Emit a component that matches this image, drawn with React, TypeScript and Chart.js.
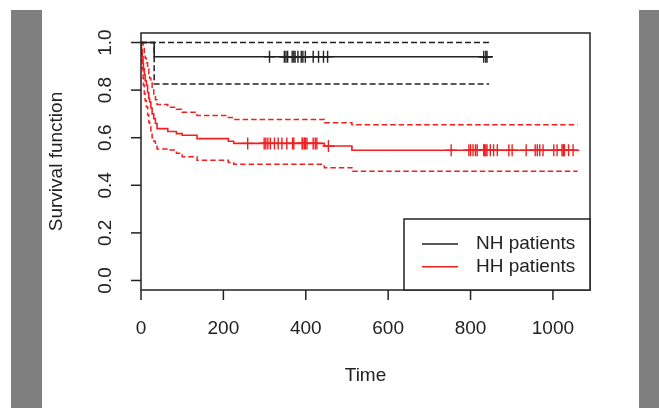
import React, { useEffect, useRef } from "react";
import { Chart, registerables } from "chart.js";

Chart.register(...registerables);

// ---- Axis ticks ----
const xTicks = [0, 200, 400, 600, 800, 1000];
const yTicks = [0, 0.2, 0.4, 0.6, 0.8, 1.0];
const yTickLabels = ["0.0", "0.2", "0.4", "0.6", "0.8", "1.0"];

// ---- NH patients (black) ----
const nhTimes = [0, 32, 852];
const nhSurv = [1.0, 0.94, 0.94];
const nhCiTimes = [0, 32, 845];
const nhUpper = [1.0, 1.0, 1.0];
const nhLower = [1.0, 0.826, 0.826];
const nhCensor = [312, 348, 352, 356, 367, 371, 374, 381, 389, 393, 399, 418, 431, 443, 453, 832, 837, 840];

// ---- HH patients (red) ----
const hhTimes = [0, 1, 3, 5, 6, 8, 10, 13, 16, 19, 21, 24, 27, 31, 35, 39, 65, 86, 100, 136, 212, 225, 445, 512, 1060];
const hhSurv = [1, 0.97, 0.94, 0.91, 0.89, 0.865, 0.84, 0.82, 0.79, 0.765, 0.75, 0.725, 0.7, 0.68, 0.66, 0.638, 0.626, 0.617, 0.61, 0.596, 0.585, 0.576, 0.565, 0.547, 0.547];
const hhUpper = [1, 1, 1, 0.99, 0.975, 0.955, 0.935, 0.915, 0.89, 0.865, 0.85, 0.83, 0.8, 0.78, 0.76, 0.74, 0.728, 0.72, 0.707, 0.693, 0.685, 0.677, 0.663, 0.654, 0.654];
const hhLower = [1, 0.93, 0.89, 0.85, 0.82, 0.785, 0.755, 0.73, 0.695, 0.665, 0.645, 0.62, 0.6, 0.585, 0.57, 0.553, 0.548, 0.535, 0.52, 0.505, 0.496, 0.488, 0.474, 0.459, 0.459];
const hhCensor = [259, 299, 303, 308, 314, 324, 333, 342, 354, 368, 371, 391, 393, 397, 399, 403, 418, 423, 427, 455, 753, 796, 800, 806, 812, 816, 832, 834, 837, 840, 848, 856, 865, 893, 901, 935, 957, 962, 968, 976, 1002, 1010, 1022, 1025, 1026, 1028, 1038, 1049];

const legendLabels = ["NH patients", "HH patients"];

const BLACK = "#222222";
const RED = "#f02020";
const FONT = '19px "Liberation Sans", Arial, Helvetica, sans-serif';

function pts(times: number[], vals: number[]) {
  return times.map((t, i) => ({ x: t, y: vals[i] }));
}
function survAt(times: number[], vals: number[], t: number) {
  let v = vals[0];
  for (let i = 0; i < times.length; i++) if (times[i] <= t) v = vals[i];
  return v;
}

const decor = {
  id: "decor",
  afterDraw(chart: any) {
    const { ctx, chartArea: a, scales } = chart;
    const xs = scales.x;
    const ys = scales.y;
    ctx.save();
    ctx.strokeStyle = BLACK;
    ctx.fillStyle = BLACK;
    ctx.lineWidth = 1.5;
    ctx.strokeRect(a.left, a.top, a.right - a.left, a.bottom - a.top);
    ctx.font = FONT;
    ctx.textAlign = "center";
    ctx.textBaseline = "middle";
    xTicks.forEach((v) => {
      const px = xs.getPixelForValue(v);
      ctx.beginPath();
      ctx.moveTo(px, a.bottom);
      ctx.lineTo(px, a.bottom + 10);
      ctx.stroke();
      ctx.fillText(String(v), px, a.bottom + 39);
    });
    yTicks.forEach((v, i) => {
      const py = ys.getPixelForValue(v);
      ctx.beginPath();
      ctx.moveTo(a.left - 10, py);
      ctx.lineTo(a.left, py);
      ctx.stroke();
      ctx.save();
      ctx.translate(a.left - 35, py);
      ctx.rotate(-Math.PI / 2);
      ctx.fillText(yTickLabels[i], 0, 0);
      ctx.restore();
    });
    ctx.fillText("Time", (a.left + a.right) / 2, a.bottom + 86);
    ctx.save();
    ctx.translate(a.left - 84, (a.top + a.bottom) / 2);
    ctx.rotate(-Math.PI / 2);
    ctx.fillText("Survival function", 0, 0);
    ctx.restore();

    // legend
    const lw = 186, lh = 71;
    const lx = a.right - lw, ly = a.bottom - lh;
    ctx.fillStyle = "#ffffff";
    ctx.fillRect(lx, ly, lw, lh);
    ctx.strokeStyle = BLACK;
    ctx.strokeRect(lx, ly, lw, lh);
    const colors = [BLACK, RED];
    const rows = [25, 47.7];
    legendLabels.forEach((lab, i) => {
      ctx.strokeStyle = colors[i];
      ctx.lineWidth = 1.5;
      ctx.beginPath();
      ctx.moveTo(lx + 18, ly + rows[i]);
      ctx.lineTo(lx + 54, ly + rows[i]);
      ctx.stroke();
      ctx.fillStyle = BLACK;
      ctx.textAlign = "left";
      ctx.fillText(lab, lx + 72, ly + rows[i]);
    });
    ctx.restore();
  },
};

export default function App() {
  const ref = useRef<HTMLCanvasElement>(null);
  useEffect(() => {
    const prev = document.body.style.margin;
    document.body.style.margin = "0";
    const lineDs = (data: any[], color: string, dash: number[] | null, width: number) => ({
      type: "line" as const,
      data,
      borderColor: color,
      borderWidth: width,
      borderDash: dash || [],
      pointRadius: 0,
      stepped: true,
      fill: false,
      tension: 0,
    });
    const censorDs = (times: number[], stimes: number[], svals: number[], color: string) => ({
      type: "scatter" as const,
      data: times.map((t) => ({ x: t, y: survAt(stimes, svals, t) })),
      pointStyle: "cross",
      pointRadius: 6,
      borderColor: color,
      borderWidth: 1.4,
      showLine: false,
    });
    const chart = new Chart(ref.current as HTMLCanvasElement, {
      type: "line",
      data: {
        datasets: [
          lineDs(pts(nhTimes, nhSurv), BLACK, null, 1.6),
          lineDs(pts(nhCiTimes, nhUpper), BLACK, [6, 3], 1.5),
          lineDs(pts(nhCiTimes, nhLower), BLACK, [6, 3], 1.5),
          censorDs(nhCensor, nhTimes, nhSurv, BLACK),
          lineDs(pts(hhTimes, hhSurv), RED, null, 1.6),
          lineDs(pts(hhTimes, hhUpper), RED, [5.5, 3], 1.5),
          lineDs(pts(hhTimes, hhLower), RED, [5.5, 3], 1.5),
          censorDs(hhCensor, hhTimes, hhSurv, RED),
        ] as any,
      },
      options: {
        animation: false,
        responsive: false,
        devicePixelRatio: 1,
        layout: { padding: { left: 141, top: 33, right: 69, bottom: 118 } },
        plugins: { legend: { display: false }, tooltip: { enabled: false } },
        scales: {
          x: { type: "linear", min: 0, max: 1090, display: false },
          y: { type: "linear", min: -0.04, max: 1.04, display: false },
        },
      },
      plugins: [decor],
    });
    return () => {
      chart.destroy();
      document.body.style.margin = prev;
    };
  }, []);
  return (
    <div style={{ position: "absolute", left: 0, top: 0, width: 659, height: 408, background: "#ffffff", overflow: "hidden" }}>
      <div style={{ position: "absolute", left: 11, top: 10, width: 31, height: 398, background: "#7f7f7f" }} />
      <div style={{ position: "absolute", left: 639, top: 10, width: 20, height: 398, background: "#7f7f7f" }} />
      <canvas ref={ref} width={659} height={408} style={{ position: "absolute", left: 0, top: 0, width: 659, height: 408 }} />
    </div>
  );
}
